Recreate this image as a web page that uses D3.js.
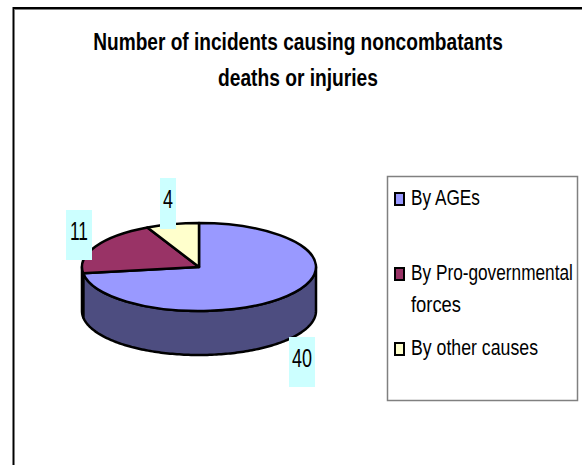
<!DOCTYPE html>
<html>
<head>
<meta charset="utf-8">
<script src="https://unpkg.com/d3@7/dist/d3.min.js"></script>
<style>
html, body { margin: 0; padding: 0; background: #fff; }
svg { display: block; }
text { font-family: "Liberation Sans", Arial, sans-serif; fill: #000; }
</style>
</head>
<body>
<div id="chart"></div>
<script>
const width = 582;
const height = 465;

const titleLines = ["Number of incidents causing noncombatants", "deaths or injuries"];
const categories = ["By AGEs", "By Pro-governmental forces", "By other causes"];
const values = [40, 11, 4];
const topColors = ["#9999ff", "#993366", "#ffffcc"];
const sideColors = ["#4d4d80", "#4d1a33", "#808066"];

const cx = 199, cy = 267, rx = 117, ry = 44, depth = 44;

const svg = d3.select("#chart").append("svg")
    .attr("width", width)
    .attr("height", height);

svg.append("rect").attr("width", width).attr("height", height).attr("fill", "#fff");

// outer chart frame, cut off by the picture on the right and bottom
svg.append("path")
    .attr("d", "M13.5,465V8H582")
    .attr("fill", "none")
    .attr("stroke", "#000")
    .attr("stroke-width", 2);
svg.append("path")
    .attr("d", "M14.5,9.5H582")
    .attr("fill", "none")
    .attr("stroke", "#808080")
    .attr("stroke-width", 1);

// the original text is a squeezed Arial, so scale each line to its measured width
function squeeze(sel, x, y, w, anchor) {
    sel.each(function(d, i) {
        const natural = this.getComputedTextLength();
        d3.select(this)
            .attr("text-anchor", anchor)
            .attr("transform", `translate(${x(d, i)},${y(d, i)}) scale(${w(d, i) / natural},1)`);
    });
}

// title
const titleWidths = [410, 160];
svg.selectAll(".title")
    .data(titleLines)
    .enter().append("text")
    .attr("class", "title")
    .attr("font-size", 23)
    .attr("font-weight", "bold")
    .text(d => d)
    .call(squeeze, () => 298, (d, i) => 50 + i * 36, (d, i) => titleWidths[i], "middle");

const pie = d3.pie().sort(null)(values);

// maps a pie angle on to the tilted ellipse
const px = a => cx + rx * Math.sin(a);
const py = a => cy - ry * Math.cos(a);
const line = d3.line();

// front wall, only the part of each slice facing the viewer
pie.forEach((s, i) => {
    const a0 = Math.max(s.startAngle, Math.PI / 2);
    const a1 = Math.min(s.endAngle, Math.PI * 1.5);
    if (a1 <= a0) return;
    const angles = d3.range(a0, a1, 0.02).concat([a1]);
    const topEdge = angles.map(a => [px(a), py(a)]);
    const bottomEdge = angles.slice().reverse().map(a => [px(a), py(a) + depth]);
    svg.append("path")
        .attr("d", line(topEdge.concat(bottomEdge)) + "Z")
        .attr("fill", sideColors[i])
        .attr("stroke", "#000")
        .attr("stroke-width", 2.5)
        .attr("stroke-linejoin", "round");
});

// top face
const arc = d3.arc().innerRadius(0).outerRadius(rx);
svg.append("g")
    .attr("transform", `translate(${cx},${cy}) scale(1,${ry / rx})`)
    .selectAll("path")
    .data(pie)
    .enter().append("path")
    .attr("d", arc)
    .attr("fill", (d, i) => topColors[i])
    .attr("stroke", "#000")
    .attr("stroke-width", 2.5)
    .attr("vector-effect", "non-scaling-stroke")
    .attr("stroke-linejoin", "round");

// value labels on pale cyan boxes
const labelBoxes = [
    { x: 289, y: 337, w: 26, h: 50, base: 367, tw: 20 },
    { x: 66, y: 210, w: 26, h: 50, base: 240, tw: 18 },
    { x: 160, y: 178, w: 16, h: 51, base: 208, tw: 10 }
];
const labels = svg.selectAll(".label")
    .data(values)
    .enter().append("g")
    .attr("class", "label");
labels.append("rect")
    .attr("x", (d, i) => labelBoxes[i].x)
    .attr("y", (d, i) => labelBoxes[i].y)
    .attr("width", (d, i) => labelBoxes[i].w)
    .attr("height", (d, i) => labelBoxes[i].h)
    .attr("fill", "#ccffff");
labels.append("text")
    .attr("font-size", 25)
    .text(d => d)
    .each(function(d, i) {
        const b = labelBoxes[i];
        const natural = this.getComputedTextLength();
        d3.select(this)
            .attr("text-anchor", "middle")
            .attr("transform", `translate(${b.x + b.w / 2},${b.base}) scale(${b.tw / natural},1)`);
    });

// legend
svg.append("rect")
    .attr("x", 387.5)
    .attr("y", 176.5)
    .attr("width", 190)
    .attr("height", 224)
    .attr("fill", "#fff")
    .attr("stroke", "#808080")
    .attr("stroke-width", 1.5);

const legendSwatchY = [192, 267, 342];
const legendBase = [205, 280, 355];
const legendLines = [["By AGEs"], ["By Pro-governmental", "forces"], ["By other causes"]];
const legendWidths = [[69], [162, 50], [127]];

const legend = svg.selectAll(".legend")
    .data(categories)
    .enter().append("g")
    .attr("class", "legend");
legend.append("rect")
    .attr("x", 395)
    .attr("y", (d, i) => legendSwatchY[i] + 1)
    .attr("width", 9)
    .attr("height", 12)
    .attr("fill", (d, i) => topColors[i])
    .attr("stroke", "#000")
    .attr("stroke-width", 2);
legend.each(function(d, i) {
    d3.select(this).selectAll("text")
        .data(legendLines[i])
        .enter().append("text")
        .attr("font-size", 22)
        .text(t => t)
        .call(squeeze, () => 411, (t, j) => legendBase[i] + j * 32, (t, j) => legendWidths[i][j], "start");
});
</script>
</body>
</html>
